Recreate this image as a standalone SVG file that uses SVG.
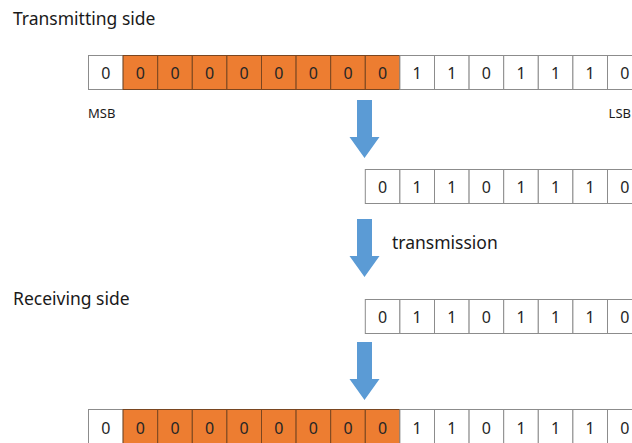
<svg xmlns="http://www.w3.org/2000/svg" width="632" height="443" viewBox="0 0 632 443">
<style>
.w{fill:#ffffff;stroke:#8c8c8c;stroke-width:1}
.o{fill:#ed7d31;stroke:#7a4620;stroke-width:1}
.d{font-family:"Noto Sans","Open Sans",sans-serif;font-size:16px;fill:#262626;text-anchor:middle}
.lbl{font-family:"Noto Sans","Open Sans",sans-serif;font-size:17.5px;fill:#1a1a1a}
.sm{font-family:"Noto Sans","Open Sans",sans-serif;font-size:13px;fill:#1a1a1a}
.arr{fill:#5b9bd5}
</style>
<defs>
<path id="arrow" d="M357,0 H372 V37 H379.5 L364.5,58 L349.5,37 H357 Z"/>
</defs>
<rect width="632" height="443" fill="#ffffff"/>
<text class="lbl" x="13" y="25">Transmitting side</text>
<text class="lbl" x="13" y="305">Receiving side</text>
<text class="sm" x="88" y="118">MSB</text>
<text class="sm" x="631" y="118" text-anchor="end">LSB</text>
<text class="lbl" x="392" y="249" font-size="16.5">transmission</text>

<g id="row-transmit" transform="translate(88.5,55.5)">
<rect class="w" x="0" y="0" width="34.6" height="34"/>
<rect class="o" x="34.6" y="0" width="34.6" height="34"/>
<rect class="o" x="69.2" y="0" width="34.6" height="34"/>
<rect class="o" x="103.8" y="0" width="34.6" height="34"/>
<rect class="o" x="138.4" y="0" width="34.6" height="34"/>
<rect class="o" x="173" y="0" width="34.6" height="34"/>
<rect class="o" x="207.6" y="0" width="34.6" height="34"/>
<rect class="o" x="242.2" y="0" width="34.6" height="34"/>
<rect class="o" x="276.8" y="0" width="34.6" height="34"/>
<rect class="w" x="311.4" y="0" width="34.6" height="34"/>
<rect class="w" x="346" y="0" width="34.6" height="34"/>
<rect class="w" x="380.6" y="0" width="34.6" height="34"/>
<rect class="w" x="415.2" y="0" width="34.6" height="34"/>
<rect class="w" x="449.8" y="0" width="34.6" height="34"/>
<rect class="w" x="484.4" y="0" width="34.6" height="34"/>
<rect class="w" x="519" y="0" width="34.6" height="34"/>
<text class="d" x="17.3" y="23">0</text>
<text class="d" x="51.9" y="23">0</text>
<text class="d" x="86.5" y="23">0</text>
<text class="d" x="121.1" y="23">0</text>
<text class="d" x="155.7" y="23">0</text>
<text class="d" x="190.3" y="23">0</text>
<text class="d" x="224.9" y="23">0</text>
<text class="d" x="259.5" y="23">0</text>
<text class="d" x="294.1" y="23">0</text>
<text class="d" x="328.7" y="23">1</text>
<text class="d" x="363.3" y="23">1</text>
<text class="d" x="397.9" y="23">0</text>
<text class="d" x="432.5" y="23">1</text>
<text class="d" x="467.1" y="23">1</text>
<text class="d" x="501.7" y="23">1</text>
<text class="d" x="536.3" y="23">0</text>
</g>

<g id="row-sent" transform="translate(365.3,169.5)">
<rect class="w" x="0" y="0" width="34.6" height="34"/>
<rect class="w" x="34.6" y="0" width="34.6" height="34"/>
<rect class="w" x="69.2" y="0" width="34.6" height="34"/>
<rect class="w" x="103.8" y="0" width="34.6" height="34"/>
<rect class="w" x="138.4" y="0" width="34.6" height="34"/>
<rect class="w" x="173" y="0" width="34.6" height="34"/>
<rect class="w" x="207.6" y="0" width="34.6" height="34"/>
<rect class="w" x="242.2" y="0" width="34.6" height="34"/>
<text class="d" x="17.3" y="23">0</text>
<text class="d" x="51.9" y="23">1</text>
<text class="d" x="86.5" y="23">1</text>
<text class="d" x="121.1" y="23">0</text>
<text class="d" x="155.7" y="23">1</text>
<text class="d" x="190.3" y="23">1</text>
<text class="d" x="224.9" y="23">1</text>
<text class="d" x="259.5" y="23">0</text>
</g>

<g id="row-received" transform="translate(365.3,299.5)">
<rect class="w" x="0" y="0" width="34.6" height="34"/>
<rect class="w" x="34.6" y="0" width="34.6" height="34"/>
<rect class="w" x="69.2" y="0" width="34.6" height="34"/>
<rect class="w" x="103.8" y="0" width="34.6" height="34"/>
<rect class="w" x="138.4" y="0" width="34.6" height="34"/>
<rect class="w" x="173" y="0" width="34.6" height="34"/>
<rect class="w" x="207.6" y="0" width="34.6" height="34"/>
<rect class="w" x="242.2" y="0" width="34.6" height="34"/>
<text class="d" x="17.3" y="23">0</text>
<text class="d" x="51.9" y="23">1</text>
<text class="d" x="86.5" y="23">1</text>
<text class="d" x="121.1" y="23">0</text>
<text class="d" x="155.7" y="23">1</text>
<text class="d" x="190.3" y="23">1</text>
<text class="d" x="224.9" y="23">1</text>
<text class="d" x="259.5" y="23">0</text>
</g>

<g id="row-restored" transform="translate(88.5,409.5)">
<rect class="w" x="0" y="0" width="34.6" height="34"/>
<rect class="o" x="34.6" y="0" width="34.6" height="34"/>
<rect class="o" x="69.2" y="0" width="34.6" height="34"/>
<rect class="o" x="103.8" y="0" width="34.6" height="34"/>
<rect class="o" x="138.4" y="0" width="34.6" height="34"/>
<rect class="o" x="173" y="0" width="34.6" height="34"/>
<rect class="o" x="207.6" y="0" width="34.6" height="34"/>
<rect class="o" x="242.2" y="0" width="34.6" height="34"/>
<rect class="o" x="276.8" y="0" width="34.6" height="34"/>
<rect class="w" x="311.4" y="0" width="34.6" height="34"/>
<rect class="w" x="346" y="0" width="34.6" height="34"/>
<rect class="w" x="380.6" y="0" width="34.6" height="34"/>
<rect class="w" x="415.2" y="0" width="34.6" height="34"/>
<rect class="w" x="449.8" y="0" width="34.6" height="34"/>
<rect class="w" x="484.4" y="0" width="34.6" height="34"/>
<rect class="w" x="519" y="0" width="34.6" height="34"/>
<text class="d" x="17.3" y="24">0</text>
<text class="d" x="51.9" y="24">0</text>
<text class="d" x="86.5" y="24">0</text>
<text class="d" x="121.1" y="24">0</text>
<text class="d" x="155.7" y="24">0</text>
<text class="d" x="190.3" y="24">0</text>
<text class="d" x="224.9" y="24">0</text>
<text class="d" x="259.5" y="24">0</text>
<text class="d" x="294.1" y="24">0</text>
<text class="d" x="328.7" y="24">1</text>
<text class="d" x="363.3" y="24">1</text>
<text class="d" x="397.9" y="24">0</text>
<text class="d" x="432.5" y="24">1</text>
<text class="d" x="467.1" y="24">1</text>
<text class="d" x="501.7" y="24">1</text>
<text class="d" x="536.3" y="24">0</text>
</g>

<g id="connectors">
<use href="#arrow" class="arr" transform="translate(0,100)"/>
<use href="#arrow" class="arr" transform="translate(0,219)"/>
<use href="#arrow" class="arr" transform="translate(0,342)"/>
</g>
</svg>
